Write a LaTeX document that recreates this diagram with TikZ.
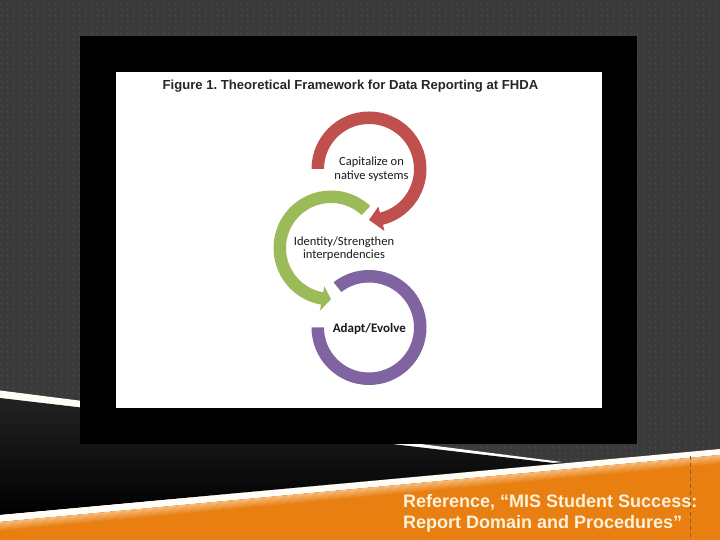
\documentclass[tikz,border=0pt]{standalone}
\usepackage{fontspec}
\setmainfont{Liberation Sans}
\newfontfamily\calib{Carlito}
\usetikzlibrary{calc,patterns.meta}
\frenchspacing
\definecolor{bgc}{HTML}{3A3A3A}
\definecolor{dotc}{HTML}{4C4C4C}
\definecolor{redc}{HTML}{C0504D}
\definecolor{greenc}{HTML}{9BBB59}
\definecolor{purplec}{HTML}{8064A2}
\definecolor{titlec}{HTML}{262626}
\definecolor{labelc}{HTML}{1A1A1A}
\definecolor{orc}{HTML}{E97F10}
\definecolor{orlight}{HTML}{F8BE80}
\definecolor{creamc}{HTML}{FDF2DC}
\definecolor{stripec}{HTML}{FFFDF6}
\definecolor{wedgetop}{HTML}{222222}
\definecolor{dashc}{HTML}{8C5A2A}
\tikzdeclarepattern{
  name=bgdots,
  type=uncolored,
  bounding box={(0pt,0pt) and (6pt,6pt)},
  tile size={(6pt,6pt)},
  code={\fill (2.5pt,1.5pt) rectangle (3.5pt,4pt);}
}
\tikzset{
  lbl/.style={font=\calib\fontsize{12.5}{13.5}\selectfont, text=labelc, align=center, inner sep=0pt},
  reftext/.style={font=\bfseries\fontsize{18}{21}\selectfont, text=creamc, inner sep=0pt, anchor=base west}
}
\begin{document}
\begin{tikzpicture}[x=1pt,y=1pt]
\useasboundingbox (0,0) rectangle (720,540);
% background
\fill[bgc] (0,0) rectangle (720,540);
\fill[pattern=bgdots, pattern color=dotc] (0,0) rectangle (720,540);
% swoosh
\fill[stripec] (0,149.5) -- (562,78) -- (0,24) -- cycle;
\shade[top color=wedgetop, bottom color=black] (0,142) -- (558,76.5) -- (0,25) -- cycle;
\fill[stripec] (0,25) -- (720,91) -- (720,85) -- (0,18) -- cycle;
\fill[orc] (0,18) -- (720,85) -- (720,0) -- (0,0) -- cycle;
\foreach \i [evaluate=\i as \p using {100-10*\i}] in {0,...,10}
  \draw[line width=1.1pt, color=orlight!\p!orc] (0,17.5-0.9*\i) -- (720,84.5-0.9*\i);
\draw[dashc, line width=0.6pt, dash pattern=on 4pt off 3pt] (690,84) -- (690,0);
% frame
\fill[black] (80,96) rectangle (637,504);
\fill[white] (116,132) rectangle (602,468);
% title
\node[font=\bfseries\fontsize{13.1}{15}\selectfont, text=titlec, anchor=base, inner sep=0pt] (title) at (350.5,450) {Figure 1. Theoretical Framework for Data Reporting at FHDA};
% circles
\coordinate (R) at (369,371);
\coordinate (G) at (331,292);
\coordinate (P) at (369,212.5);
\fill[redc] ($(R)+(180:57.5)$) arc[start angle=180,end angle=-76,radius=57.5]
  -- ($(R)+(-76:63.75)$) -- ($(R)+(-90:51)$) -- ($(R)+(-76:38.75)$)
  -- ($(R)+(-76:45)$) arc[start angle=-76,end angle=180,radius=45] -- cycle;
\fill[greenc] ($(G)+(47:57.5)$) arc[start angle=47,end angle=260,radius=57.5]
  -- ($(G)+(260:63.75)$) -- ($(G)+(270:51.25)$) -- ($(G)+(260:38.75)$)
  -- ($(G)+(260:45)$) arc[start angle=260,end angle=47,radius=45] -- cycle;
\fill[purplec] ($(P)+(180:57.5)$) arc[start angle=180,end angle=488,radius=57.5]
  -- ($(P)+(128:45)$) arc[start angle=488,end angle=180,radius=45] -- cycle;
% labels
\node[lbl] (cap) at (371.5,371) {Capitalize on\\native systems};
\node[lbl] (ident) at (344,291.5) {Identity/Strengthen\\interpendencies};
\node[lbl, font=\calib\bfseries\fontsize{13}{14}\selectfont] (adapt) at (369.3,211) {Adapt/Evolve};
% reference text
\node[reftext] (ref1) at (403,32) {Reference, “MIS Student Success:};
\node[reftext] (ref2) at (403,11) {Report Domain and Procedures”};
\end{tikzpicture}
\end{document}
